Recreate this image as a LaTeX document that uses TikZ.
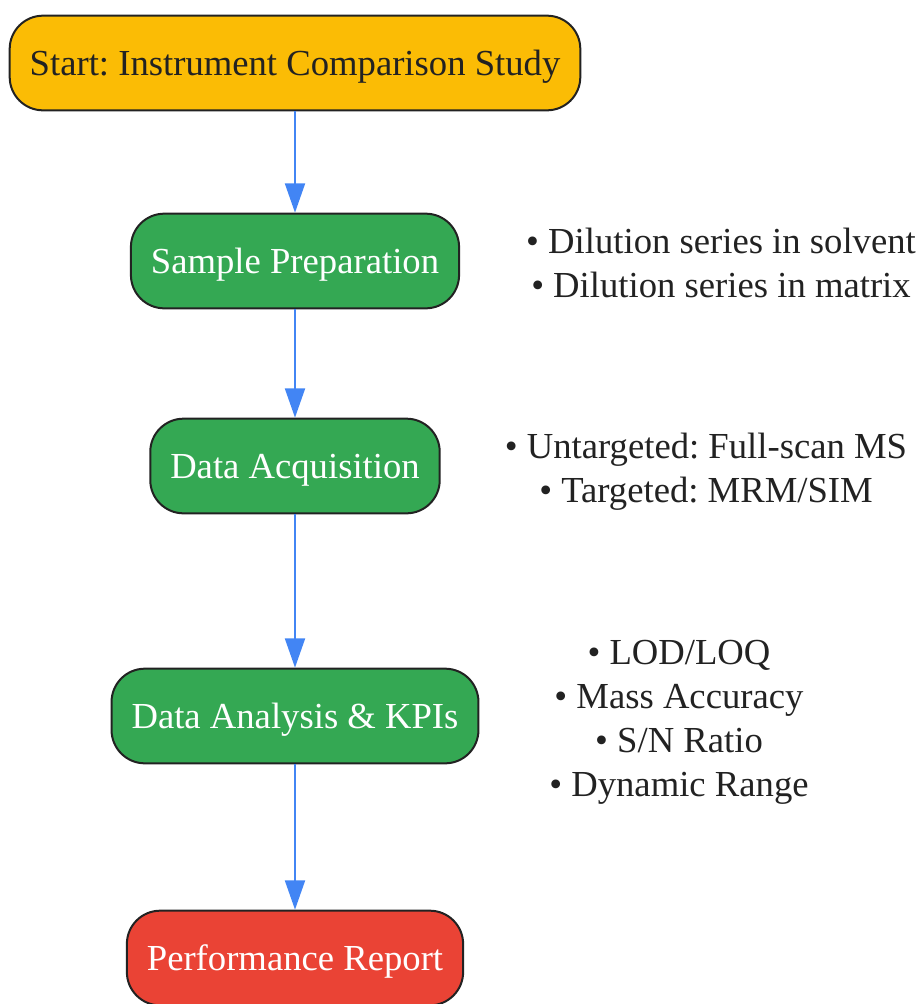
\documentclass[tikz,border=0pt]{standalone}
\usepackage{fontspec}
\setmainfont{Liberation Serif}
\usepackage{tikz}
\usetikzlibrary{arrows.meta}
\frenchspacing
\definecolor{startfill}{HTML}{FBBC05}
\definecolor{stepfill}{HTML}{34A853}
\definecolor{endfill}{HTML}{EA4335}
\definecolor{flowline}{HTML}{4285F4}
\definecolor{ink}{HTML}{222222}
\tikzstyle{stage}=[draw=ink, line width=1.5pt, rounded corners=25pt, minimum height=71pt,
  inner xsep=15pt, text height=22pt, text depth=3pt, text=white,
  font=\fontsize{27.5pt}{33pt}\selectfont]
\tikzstyle{note}=[align=center, text=ink, font=\fontsize{27.5pt}{33pt}\selectfont]
\tikzstyle{flow}=[draw=flowline, line width=1.5pt, -{Triangle[length=22pt, width=15pt]}]

\begin{document}
\begin{tikzpicture}[x=0.75pt, y=-0.75pt]
       \useasboundingbox (0,0) rectangle (924,1004);
       \node[stage, fill=startfill, text=ink] (start) at (295,63) {Start: Instrument Comparison Study};
       \node[stage, fill=stepfill] (prep) at (295,261) {Sample Preparation};
       \node[stage, fill=stepfill] (acq) at (295,466) {Data Acquisition};
       \node[stage, fill=stepfill] (kpi) at (295,716) {Data Analysis \& KPIs};
       \node[stage, fill=endfill] (report) at (295,958) {Performance Report};
       \node[note] (prepnote) at (721,263) {• Dilution series in solvent\\• Dilution series in matrix};
       \node[note] (acqnote) at (706,472) {• Untargeted: Full-scan MS\\• Targeted: MRM/SIM};
       \node[note] (kpinote) at (679,722) {• LOD/LOQ\\• Mass Accuracy\\• S/N Ratio\\• Dynamic Range};
       \draw[flow] (start) -- (prep);
       \draw[flow] (prep) -- (acq);
       \draw[flow] (acq) -- (kpi);
       \draw[flow] (kpi) -- (report);
     \end{tikzpicture}
\end{document}
